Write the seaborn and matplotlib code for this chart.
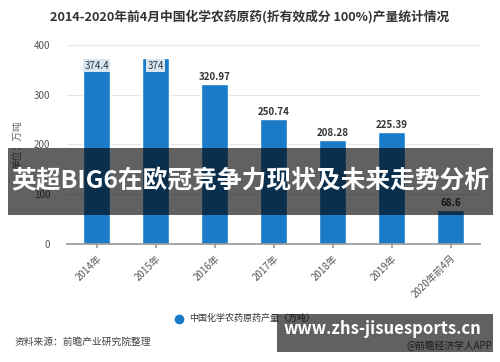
import matplotlib
matplotlib.use("Agg")
import matplotlib.pyplot as plt
import pandas as pd
import seaborn as sns
from matplotlib.patches import Rectangle

years = ["2014年", "2015年", "2016年", "2017年", "2018年", "2019年", "2020年前4月"]
output = [374.4, 374, 320.97, 250.74, 208.28, 225.39, 68.6]
labels = ["374.4", "374", "320.97", "250.74", "208.28", "225.39", "68.6"]
series_name = "中国化学农药原药产量（万吨）"

sns.set_theme(style="white")
plt.rcParams['font.family'] = ['Noto Sans CJK SC', 'DejaVu Sans']

df = pd.DataFrame({"year": years, "value": output})

fig = plt.figure(figsize=(5, 3.62), dpi=100)
ax = fig.add_axes([0.134, 0.326, 0.826, 0.55])

blue = "#1a7cc9"
sns.barplot(data=df, x="year", y="value", color=blue, width=0.47, ax=ax, saturation=1)

ax.set_ylim(0, 400)
ax.set_xlim(-0.5, 6.5)
ax.set_yticks([0, 100, 200, 300, 400])
ax.yaxis.grid(True, color="#e6e6e6", linewidth=0.8)
ax.set_axisbelow(True)
for s in ["top", "right", "left"]:
    ax.spines[s].set_visible(False)
ax.spines["bottom"].set_color("#999999")
ax.tick_params(axis="y", labelsize=7, colors="#555555", length=0, pad=12)
ax.tick_params(axis="x", labelsize=7, colors="#555555", length=3, bottom=True, color="#999999")
plt.setp(ax.get_xticklabels(), rotation=45, ha="right", rotation_mode="anchor")
ax.set_xlabel("")
ax.set_ylabel("单位：万吨", fontsize=7, color="#666666", labelpad=8)

for i, (v, t) in enumerate(zip(output, labels)):
    if v > 360:
        ax.text(i, v - 6, t, ha="center", va="top", fontsize=7, color="#333333",
                bbox=dict(boxstyle="square,pad=0.15", fc="#d8e6f2", ec="none"))
    else:
        ax.text(i, v + 4, t, ha="center", va="bottom", fontsize=7, color="#333333", fontweight="bold")

fig.text(0.5, 0.955, "2014-2020年前4月中国化学农药原药(折有效成分 100%)产量统计情况",
         ha="center", va="center", fontsize=9.2, fontweight="bold", color="#333333")

# legend
fig.lines.append(plt.Line2D([0.358], [0.12], transform=fig.transFigure, marker="o",
                            markersize=6, color=blue, linestyle="none"))
fig.text(0.378, 0.12, series_name, ha="left", va="center", fontsize=6.5, color="#333333")

fig.text(0.03, 0.055, "资料来源：前瞻产业研究院整理", ha="left", va="center", fontsize=7, color="#444444")
fig.text(0.985, 0.045, "@前瞻经济学人APP", ha="right", va="center", fontsize=7, color="#444444")

# overlay banners
fig.patches.append(Rectangle((0.016, 0.406), 0.97, 0.185, transform=fig.transFigure,
                             facecolor="black", alpha=0.62, edgecolor="none", zorder=10))
fig.text(0.501, 0.498, "英超BIG6在欧冠竞争力现状及未来走势分析", ha="center", va="center",
         fontsize=17.8, fontweight="bold", color="white", zorder=11)

fig.patches.append(Rectangle((0.554, 0.028), 0.432, 0.105, transform=fig.transFigure,
                             facecolor="black", alpha=0.62, edgecolor="none", zorder=10))
fig.text(0.765, 0.09, "www.zhs-jisuesports.cn", ha="center", va="center",
         fontsize=12, fontweight="bold", color="white", zorder=11)

fig.savefig("out.png", dpi=100)
